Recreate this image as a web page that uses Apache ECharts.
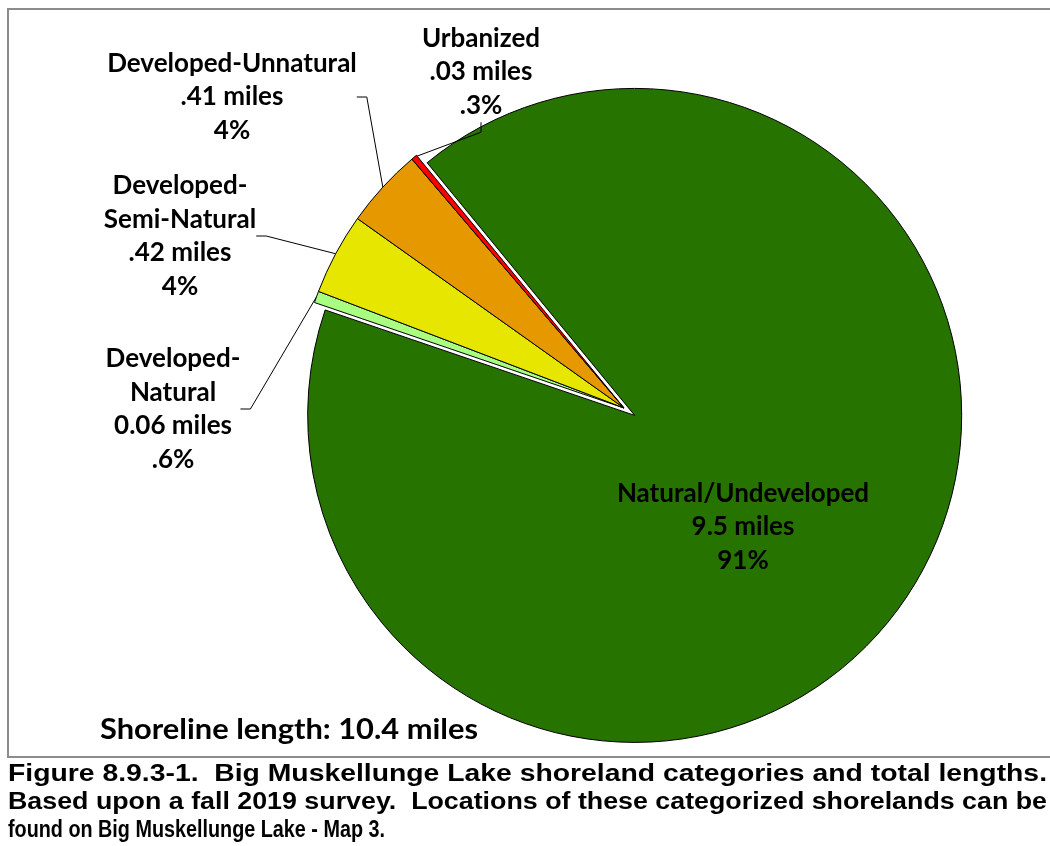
<!DOCTYPE html>
<html>
<head>
<meta charset="utf-8">
<script src="https://cdn.jsdelivr.net/npm/echarts@6/dist/echarts.min.js"></script>
<style>
html,body{margin:0;padding:0;background:#fff;}
#chart{width:1050px;height:846px;}
</style>
</head>
<body>
<div id="chart"></div>
<script>
// ---- data ----
const categories = ['Natural/Undeveloped', 'Developed-\nNatural', 'Developed-\nSemi-Natural', 'Developed-Unnatural', 'Urbanized'];
const miles = [9.5, 0.06, 0.42, 0.41, 0.03];
const milesLabels = ['9.5 miles', '0.06 miles', '.42 miles', '.41 miles', '.03 miles'];
const pctLabels = ['91%', '.6%', '4%', '4%', '.3%'];
const colors = ['#267300', '#a8ff80', '#e6e600', '#e69800', '#ff0000'];
const shorelineText = 'Shoreline length: 10.4 miles';
const captionLines = [
  'Figure 8.9.3-1.  Big Muskellunge Lake shoreland categories and total lengths.',
  'Based upon a fall 2019 survey.  Locations of these categorized shorelands can be',
  'found on Big Muskellunge Lake - Map 3.'
];

// ---- layout ----
const labelPos = [[743, 527], [173, 409], [180, 236], [232, 97], [481, 72]];
const pieCenter = [624, 408];
const pieRadius = 327;
const startAngle = 129.4;
const explode = 13;

const chart = echarts.init(document.getElementById('chart'), null, {renderer: 'canvas'});

// exploded first slice: offset its own pie along its mid angle
const total = miles.reduce((a, b) => a + b, 0);
const midDeg = startAngle - (miles[0] / total) * 360 / 2;
const midRad = midDeg * Math.PI / 180;
const explodedCenter = [pieCenter[0] + explode * Math.cos(midRad), pieCenter[1] - explode * Math.sin(midRad)];

const mainData = categories.map((c, i) => ({
  name: c,
  value: miles[i],
  itemStyle: i === 0 ? {color: 'transparent', borderWidth: 0} : {color: colors[i]},
  labelLine: {show: i !== 0}
}));
const explodedData = [
  {name: categories[0], value: miles[0], itemStyle: {color: colors[0], borderColor: '#000', borderWidth: 1}},
  {name: 'rest', value: total - miles[0], itemStyle: {color: 'transparent', borderWidth: 0}}
];

// caption lines
const canvas = document.createElement('canvas');
const ctx = canvas.getContext('2d');
const capFont = 'bold 23px "Liberation Sans", Arial, sans-serif';
ctx.font = capFont;
const capLeft = 8;
const capWidths = [1039, 1039, 377];
const capY = [775, 803, 831];
const graphics = [];
graphics.push({
  type: 'rect', shape: {x: 8, y: 9, width: 1060, height: 748},
  style: {fill: 'none', stroke: '#8c8c8c', lineWidth: 2}, silent: true
});
captionLines.forEach((line, li) => {
  const s = capWidths[li] / ctx.measureText(line).width;
  graphics.push({type: 'text', x: capLeft, y: capY[li], scaleX: s,
    style: {text: line, font: capFont, fill: '#000', textVerticalAlign: 'middle', textAlign: 'left'}});
});
const shoreFont = 'bold 29px Lato, "Noto Sans", sans-serif';
ctx.font = shoreFont;
const shoreScale = 378 / ctx.measureText(shorelineText).width;
graphics.push({type: 'text', x: 100, y: 730, scaleX: shoreScale, z: 10,
  style: {text: shorelineText, font: shoreFont, fill: '#000', textVerticalAlign: 'middle', textAlign: 'left'}});

chart.setOption({
  animation: false,
  backgroundColor: '#fff',
  graphic: graphics,
  series: [{
    type: 'pie',
    z: 1,
    center: explodedCenter,
    radius: pieRadius,
    startAngle: startAngle,
    clockwise: true,
    silent: true,
    emphasis: {disabled: true},
    label: {show: false},
    labelLine: {show: false},
    data: explodedData
  }, {
    type: 'pie',
    z: 2,
    center: pieCenter,
    radius: pieRadius,
    startAngle: startAngle,
    clockwise: true,
    avoidLabelOverlap: false,
    emphasis: {disabled: true},
    itemStyle: {borderColor: '#000', borderWidth: 1},
    label: {
      show: true,
      position: 'outside',
      color: '#000',
      fontFamily: 'Lato, "Noto Sans", sans-serif',
      fontWeight: 'bold',
      fontSize: 26,
      lineHeight: 33.5,
      align: 'center',
      formatter: p => p.name + '\n' + milesLabels[p.dataIndex] + '\n' + pctLabels[p.dataIndex]
    },
    labelLine: {show: true, length: 20, length2: 10, lineStyle: {color: '#000', width: 1}},
    labelLayout: p => ({x: labelPos[p.dataIndex][0], y: labelPos[p.dataIndex][1], align: 'center', verticalAlign: 'middle'}),
    data: mainData
  }]
});
</script>
</body>
</html>
